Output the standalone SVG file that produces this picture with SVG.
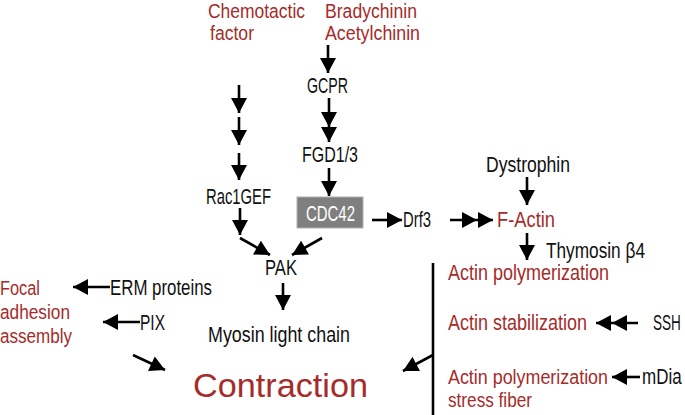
<svg xmlns="http://www.w3.org/2000/svg" width="685" height="415" viewBox="0 0 685 415">
<style>
text{font-family:"Liberation Sans",Arial,sans-serif;font-size:21.5px;fill:#111}
.r{fill:#a52c2a}
.w{fill:#fff}
.t{font-size:19.5px}
.big{font-size:33px}
.c line,.c path{stroke:#000;stroke-width:2.6;fill:none;marker-end:url(#ah)}
.c .dbl{marker-mid:url(#ah)}
</style>
<defs>
<marker id="ah" markerUnits="userSpaceOnUse" markerWidth="16" markerHeight="16" viewBox="0 0 15 16" refX="15" refY="8" orient="auto">
<path d="M0,0 L15,8 L0,16 z" fill="#000"/>
</marker>
</defs>
<rect width="685" height="415" fill="#fff"/>
<g id="chemotactic"><text class="r t" x="208" y="18" textLength="97" lengthAdjust="spacingAndGlyphs">Chemotactic</text><text class="r t" x="210" y="40" textLength="44" lengthAdjust="spacingAndGlyphs">factor</text></g>
<g id="bradychinin"><text class="r t" x="325" y="18" textLength="92" lengthAdjust="spacingAndGlyphs">Bradychinin</text><text class="r t" x="325" y="40" textLength="95" lengthAdjust="spacingAndGlyphs">Acetylchinin</text></g>
<g id="gcpr"><text x="307" y="93" textLength="41" lengthAdjust="spacingAndGlyphs">GCPR</text></g>
<g id="fgd"><text x="302" y="162" textLength="56" lengthAdjust="spacingAndGlyphs">FGD1/3</text></g>
<g id="rac1gef"><text x="206" y="204" textLength="65" lengthAdjust="spacingAndGlyphs">Rac1GEF</text></g>
<g id="cdc42"><rect x="297" y="197" width="66" height="31" fill="#7f7f7f" stroke="#b0b0b0" stroke-width="1"/><text class="w" x="306" y="221" textLength="49" lengthAdjust="spacingAndGlyphs">CDC42</text></g>
<g id="drf3"><text x="403" y="227" textLength="28" lengthAdjust="spacingAndGlyphs">Drf3</text></g>
<g id="factin"><text class="r" x="497" y="227" textLength="58" lengthAdjust="spacingAndGlyphs">F-Actin</text></g>
<g id="dystrophin"><text x="486" y="172" textLength="84" lengthAdjust="spacingAndGlyphs">Dystrophin</text></g>
<g id="thymosin"><text x="546" y="258" textLength="99" lengthAdjust="spacingAndGlyphs">Thymosin β4</text></g>
<g id="actinpoly1"><text class="r" x="448" y="280" textLength="161" lengthAdjust="spacingAndGlyphs">Actin polymerization</text></g>
<g id="actinstab"><text class="r" x="448" y="330" textLength="139" lengthAdjust="spacingAndGlyphs">Actin stabilization</text></g>
<g id="ssh"><text transform="translate(653,330) scale(0.63,1)">SSH</text></g>
<g id="actinpoly2"><text class="r t" x="448" y="384" textLength="160" lengthAdjust="spacingAndGlyphs">Actin polymerization</text><text class="r t" x="448" y="407" textLength="84" lengthAdjust="spacingAndGlyphs">stress fiber</text></g>
<g id="mdia"><text transform="translate(642,384) scale(0.79,1)">mDia</text></g>
<g id="pak"><text x="265" y="275" textLength="32" lengthAdjust="spacingAndGlyphs">PAK</text></g>
<g id="myosin"><text x="208" y="342" textLength="142" lengthAdjust="spacingAndGlyphs">Myosin light chain</text></g>
<g id="contraction"><text class="r big" x="193" y="397" textLength="175" lengthAdjust="spacingAndGlyphs">Contraction</text></g>
<g id="focal"><text class="r t" x="0" y="295" textLength="40" lengthAdjust="spacingAndGlyphs">Focal</text><text class="r t" x="0" y="319" textLength="70" lengthAdjust="spacingAndGlyphs">adhesion</text><text class="r t" x="0" y="343" textLength="72" lengthAdjust="spacingAndGlyphs">assembly</text></g>
<g id="erm"><text x="110" y="295" textLength="102" lengthAdjust="spacingAndGlyphs">ERM proteins</text></g>
<g id="pix"><text x="140" y="330" textLength="25" lengthAdjust="spacingAndGlyphs">PIX</text></g>
<g id="connectors" class="c">
<line x1="328" y1="45" x2="328" y2="73"/>
<path class="dbl" d="M329,98 L329,127 L329,142"/>
<line x1="329" y1="168" x2="329" y2="196"/>
<line x1="239" y1="85" x2="239" y2="113"/>
<line x1="239" y1="117" x2="239" y2="145"/>
<line x1="239" y1="153" x2="239" y2="180"/>
<line x1="240" y1="208" x2="240" y2="235"/>
<line x1="240" y1="238" x2="270" y2="255"/>
<line x1="322" y1="238" x2="292" y2="255"/>
<line x1="283" y1="283" x2="283" y2="310"/>
<line x1="372" y1="220" x2="402" y2="220"/>
<path class="dbl" d="M450,220 L477,220 L493,220"/>
<line x1="527" y1="177" x2="527" y2="205"/>
<line x1="527" y1="233" x2="527" y2="260"/>
<path class="dbl" d="M638,323 L612,323 L596,323"/>
<line x1="640" y1="377" x2="612" y2="377"/>
<line x1="110" y1="287" x2="73" y2="287"/>
<line x1="140" y1="322" x2="103" y2="322"/>
<line x1="133" y1="355" x2="165" y2="370"/>
<line x1="433" y1="355" x2="403" y2="371"/>
<line x1="433" y1="263" x2="433" y2="415" style="marker-end:none"/>
</g>
</svg>
